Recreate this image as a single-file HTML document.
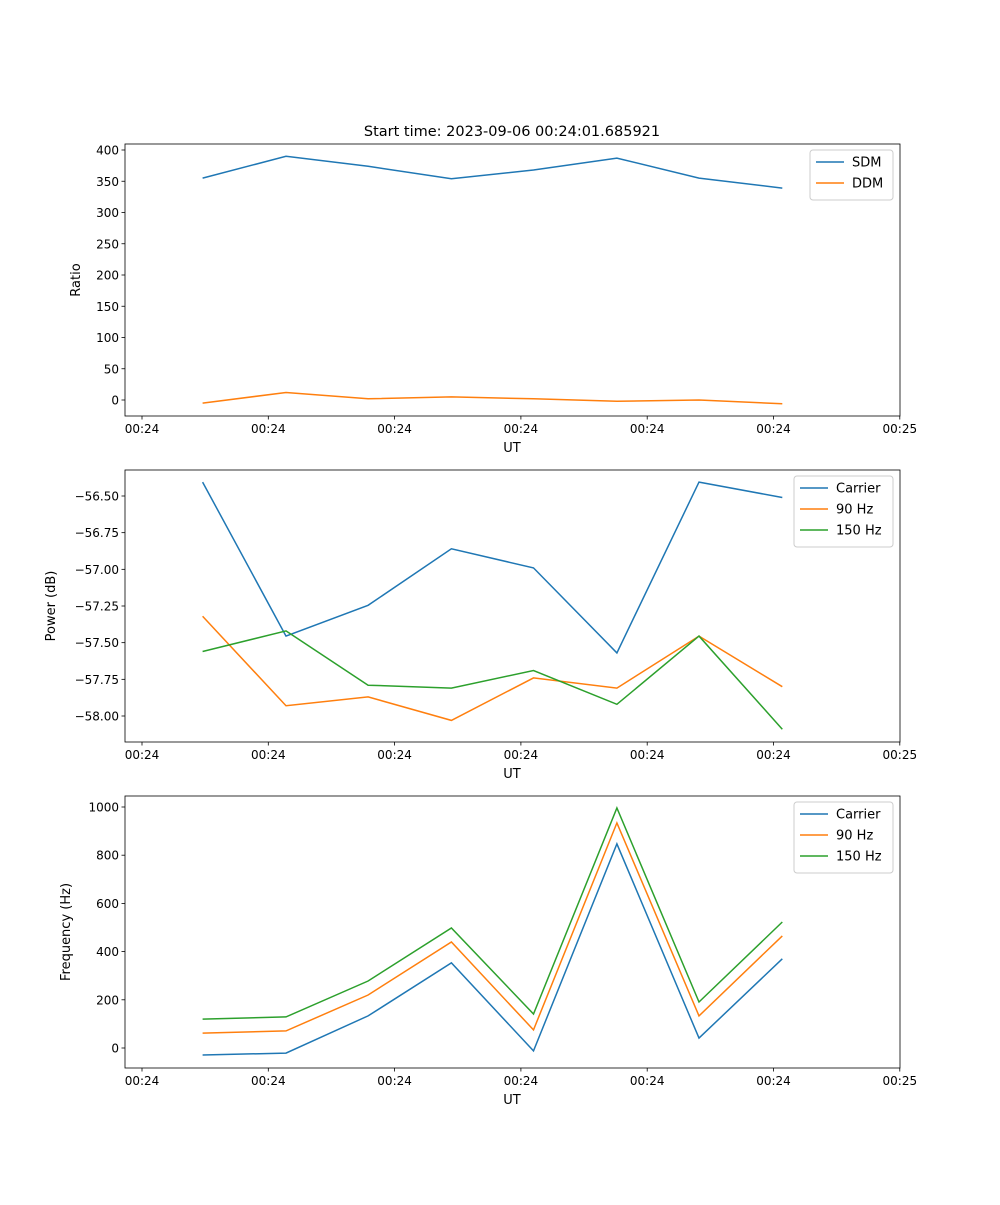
<!DOCTYPE html>
<html><head><meta charset="utf-8"><style>
body{margin:0;background:#fff;font-family:"Liberation Sans","DejaVu Sans",sans-serif}
</style></head><body>
<svg id="fig" width="1000" height="1200" xmlns="http://www.w3.org/2000/svg" font-family="DejaVu Sans, Liberation Sans, sans-serif">
<rect width="1000" height="1200" fill="#fff"/>
<text x="512" y="136" font-size="14.5" text-anchor="middle">Start time: 2023-09-06 00:24:01.685921</text>
</svg>
<script>
// shared time axis (seconds from first tick)
const times = [4.8, 11.4, 17.9, 24.5, 31.0, 37.6, 44.1, 50.7];
const xTickVals = [0, 10, 20, 30, 40, 50, 60];
const xTickLabels = ["00:24","00:24","00:24","00:24","00:24","00:24","00:25"];
// panel 1
const sdm = [355, 390, 374, 354, 368, 387, 355, 339];
const ddm = [-5, 12, 2, 5, 2, -2, 0, -6];
const ratioTicks = [0,50,100,150,200,250,300,350,400];
// panel 2
const pCarrier = [-56.405, -57.455, -57.245, -56.86, -56.99, -57.57, -56.405, -56.51];
const p90 = [-57.32, -57.93, -57.87, -58.03, -57.74, -57.81, -57.455, -57.80];
const p150 = [-57.56, -57.42, -57.79, -57.81, -57.69, -57.92, -57.455, -58.09];
const powerTicks = [-58.00,-57.75,-57.50,-57.25,-57.00,-56.75,-56.50];
// panel 3
const fCarrier = [-29, -21, 133, 353, -12, 847, 41, 370];
const f90 = [62, 71, 220, 440, 75, 934, 133, 465];
const f150 = [120, 129, 278, 498, 141, 996, 191, 523];
const freqTicks = [0,200,400,600,800,1000];

const C = ["#1f77b4","#ff7f0e","#2ca02c"];
const svg = document.getElementById('fig');
const NS = "http://www.w3.org/2000/svg";
function mk(tag, attrs, parent){const e=document.createElementNS(NS,tag);for(const k in attrs)e.setAttribute(k,attrs[k]);(parent||svg).appendChild(e);return e;}
const X0=125, X1=900;
function xs(t){return 142 + t*12.63;}

function panel(cfg){
  const g = mk('g',{});
  
  
  const ys = v => cfg.y0px + (v - cfg.v0)*(cfg.y1px - cfg.y0px)/(cfg.v1 - cfg.v0);
  cfg.series.forEach((s,i)=>{
    const pl = mk('polyline',{points:s.vals.map((v,j)=>xs(times[j]).toFixed(1)+','+ys(v).toFixed(1)).join(' '),fill:'none',stroke:C[i],'stroke-width':1.5},g);
    
    
  });
  const fr = mk('rect',{x:X0,y:cfg.top,width:X1-X0,height:272,fill:'none',stroke:'#000','stroke-width':0.8},g);
  
  
  const b = cfg.top+272;
  xTickVals.forEach((t,i)=>{
    mk('line',{x1:xs(t),x2:xs(t),y1:b,y2:b+3.5,stroke:'#000','stroke-width':0.8},g);
    const tx = mk('text',{x:xs(t),y:b+17,'font-size':12,'text-anchor':'middle'},g);
    tx.textContent = xTickLabels[i];
    
    
  });
  const xl = mk('text',{x:512,y:b+36,'font-size':13,'text-anchor':'middle'},g);
  xl.textContent='UT';
  
  
  cfg.ticks.forEach(v=>{
    const y=ys(v);
    mk('line',{x1:X0-3.5,x2:X0,y1:y,y2:y,stroke:'#000','stroke-width':0.8},g);
    const tx = mk('text',{x:X0-6,y:y+4.5,'font-size':12,'text-anchor':'end'},g);
    tx.textContent = cfg.fmt(v);
    
    
  });
  const yl = mk('text',{x:0,y:0,'font-size':13,'text-anchor':'middle',transform:`translate(${cfg.ylx},${cfg.top+136}) rotate(-90)`},g);
  yl.textContent = cfg.ylabel;
  
  
  const lg = mk('g',{},g);
  
  
  const lh = 8 + cfg.series.length*21;
  mk('rect',{x:cfg.lx,y:cfg.top+6,width:cfg.lw,height:lh,fill:'#fff',stroke:'#ccc',rx:3},lg);
  cfg.series.forEach((s,i)=>{
    const y = cfg.top+18+i*21;
    mk('line',{x1:cfg.lx+6,x2:cfg.lx+34,y1:y,y2:y,stroke:C[i],'stroke-width':1.5},lg);
    const tx = mk('text',{x:cfg.lx+42,y:y+4.5,'font-size':13},lg);
    tx.textContent = s.label;
    
    
  });
}
panel({name:'ratio-panel',top:144,v0:0,v1:400,y0px:400,y1px:150,ticks:ratioTicks,fmt:v=>String(v),ylabel:'Ratio',ylx:80,lx:810,lw:83,
  series:[{key:'sdm',label:'SDM',vals:sdm},{key:'ddm',label:'DDM',vals:ddm}]});
panel({name:'power-panel',top:470,v0:-58,v1:-56.5,y0px:716,y1px:496,ticks:powerTicks,fmt:v=>'\u2212'+Math.abs(v).toFixed(2),ylabel:'Power (dB)',ylx:55,lx:794,lw:99,
  series:[{key:'carrier',label:'Carrier',vals:pCarrier},{key:'90hz',label:'90 Hz',vals:p90},{key:'150hz',label:'150 Hz',vals:p150}]});
panel({name:'frequency-panel',top:796,v0:0,v1:1000,y0px:1048,y1px:807,ticks:freqTicks,fmt:v=>String(v),ylabel:'Frequency (Hz)',ylx:70,lx:794,lw:99,
  series:[{key:'carrier',label:'Carrier',vals:fCarrier},{key:'90hz',label:'90 Hz',vals:f90},{key:'150hz',label:'150 Hz',vals:f150}]});
</script>
</body></html>
